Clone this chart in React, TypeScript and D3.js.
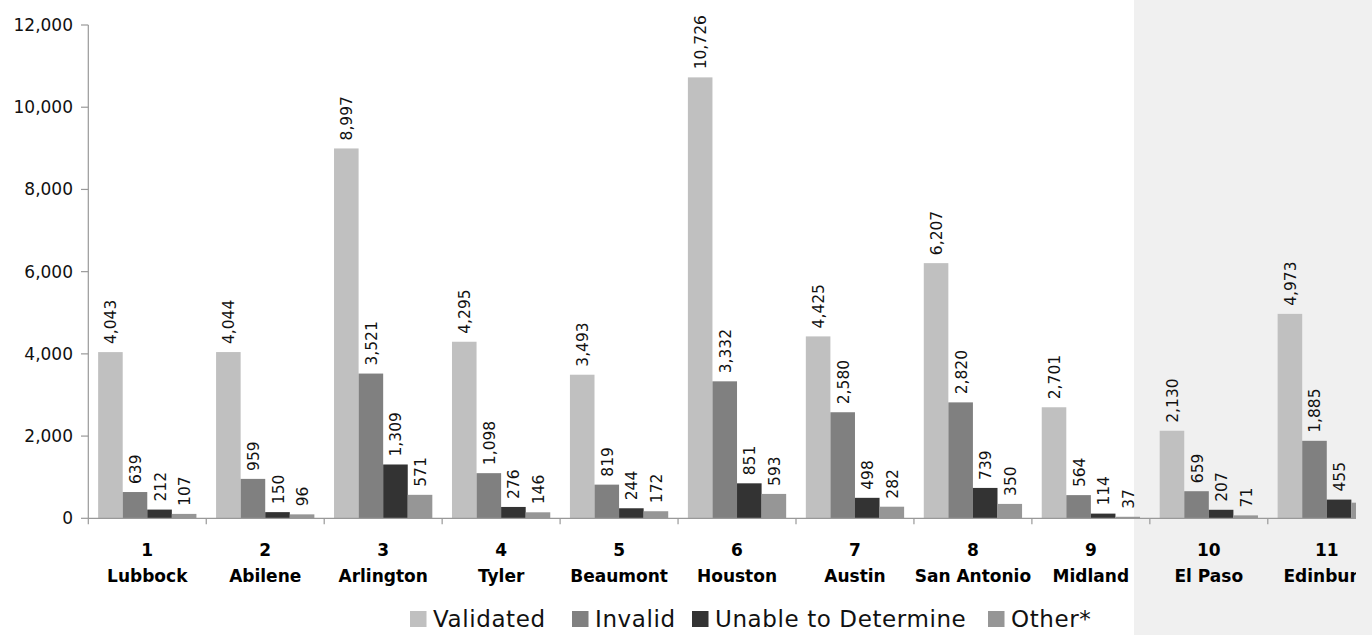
import React from "react";
import * as d3 from "d3";

const regionNums = ["1", "2", "3", "4", "5", "6", "7", "8", "9", "10", "11"];
const regionNames = ["Lubbock", "Abilene", "Arlington", "Tyler", "Beaumont", "Houston", "Austin", "San Antonio", "Midland", "El Paso", "Edinburg"];
const seriesNames = ["Validated", "Invalid", "Unable to Determine", "Other*"];
const validated = [4043, 4044, 8997, 4295, 3493, 10726, 4425, 6207, 2701, 2130, 4973];
const invalid = [639, 959, 3521, 1098, 819, 3332, 2580, 2820, 564, 659, 1885];
const unable = [212, 150, 1309, 276, 244, 851, 498, 739, 114, 207, 455];
const other = [107, 96, 571, 146, 172, 593, 282, 350, 37, 71, 380];
const yTicks = [0, 2000, 4000, 6000, 8000, 10000, 12000];
const colors = ["#c0c0c0", "#808080", "#333333", "#969696"];

const W = 1372;
const H = 635;
const font = "'DejaVu Sans', sans-serif";

export default function App() {
  const series = [validated, invalid, unable, other];
  const x0 = d3.scaleBand<number>().domain(d3.range(regionNums.length)).range([88.3, 88.3 + 117.95 * 11]).paddingInner(0).paddingOuter(0);
  const x1 = d3.scaleBand<number>().domain(d3.range(4)).range([0, x0.bandwidth()]).paddingOuter(0.4).paddingInner(0);
  const y = d3.scaleLinear().domain([0, 12000]).range([518.3, 25]);
  const fmt = d3.format(",");
  const legendX = [410, 572, 692, 988];
  const clipRight = 1356;

  return (
    <svg width={W} height={H} style={{ position: "absolute", left: 0, top: 0 }} fontFamily={font}>
      <defs>
        <clipPath id="plotclip">
          <rect x={0} y={0} width={clipRight} height={H} />
        </clipPath>
      </defs>
      <rect x={0} y={0} width={W} height={H} fill="#ffffff" />
      <rect x={1134} y={0} width={W - 1134} height={H} fill="#f0f0f0" />
      <g clipPath="url(#plotclip)">
        {regionNums.map((_, i) => (
          <g key={i} transform={`translate(${x0(i)},0)`}>
            {series.map((s, j) => {
              const v = s[i];
              const bx = x1(j)!;
              const bw = x1.bandwidth();
              const cx = bx + bw / 2;
              return (
                <g key={j}>
                  <rect x={bx} y={y(v)} width={bw} height={y(0) - y(v)} fill={colors[j]} />
                  <text
                    transform={`translate(${cx + 1},${y(v) - 8}) rotate(-90)`}
                    dominantBaseline="central"
                    fontSize={15.5}
                    fill="#111"
                  >
                    {fmt(v)}
                  </text>
                </g>
              );
            })}
            <text x={x0.bandwidth() / 2} y={556} textAnchor="middle" fontSize={17} fontWeight="bold" fill="#000">
              {regionNums[i]}
            </text>
            <text x={x0.bandwidth() / 2} y={582} textAnchor="middle" fontSize={17} fontWeight="bold" fill="#000">
              {regionNames[i]}
            </text>
          </g>
        ))}
        <line x1={88.3} x2={clipRight} y1={y(0)} y2={y(0)} stroke="#999" strokeWidth={1.2} />
        {d3.range(regionNums.length + 1).map((i) => {
          const xx = 88.3 + i * x0.step();
          return <line key={i} x1={xx} x2={xx} y1={y(0)} y2={y(0) + 6} stroke="#999" strokeWidth={1.2} />;
        })}
      </g>
      <line x1={88.3} x2={88.3} y1={y(12000)} y2={y(0)} stroke="#999" strokeWidth={1.2} />
      {yTicks.map((t) => (
        <g key={t}>
          <line x1={81} x2={88.3} y1={y(t)} y2={y(t)} stroke="#999" strokeWidth={1.2} />
          <text x={73} y={y(t)} textAnchor="end" dominantBaseline="central" fontSize={17} fill="#111">
            {fmt(t)}
          </text>
        </g>
      ))}
      {seriesNames.map((n, j) => (
        <g key={n}>
          <rect x={legendX[j]} y={611} width={16.5} height={16} fill={colors[j]} />
          <text x={legendX[j] + 23} y={627} fontSize={23} fill="#111" letterSpacing={0.6}>
            {n}
          </text>
        </g>
      ))}
    </svg>
  );
}
